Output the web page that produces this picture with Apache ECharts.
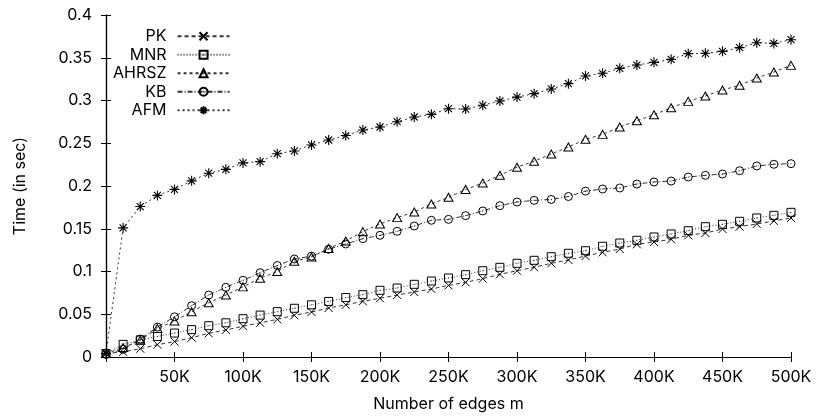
<!DOCTYPE html>
<html>
<head>
<meta charset="utf-8">
<script src="https://cdn.jsdelivr.net/npm/echarts@6/dist/echarts.min.js"></script>
<style>html,body{margin:0;padding:0;background:#fff}#c{width:818px;height:419px}</style>
</head>
<body>
<div id="c"></div>
<script>
const xEdges = [0,12500,25000,37500,50000,62500,75000,87500,100000,112500,125000,137500,150000,162500,175000,187500,200000,212500,225000,237500,250000,262500,275000,287500,300000,312500,325000,337500,350000,362500,375000,387500,400000,412500,425000,437500,450000,462500,475000,487500,500000];
const seriesNames = ['PK','MNR','AHRSZ','KB','AFM'];
const pk = [0.004,0.006,0.0097,0.0144,0.018,0.0226,0.0277,0.0316,0.036,0.040,0.044,0.0488,0.0526,0.0573,0.0610,0.0651,0.0687,0.0725,0.076,0.0795,0.0838,0.0873,0.0916,0.0967,0.1009,0.1049,0.1096,0.1135,0.1181,0.1224,0.1263,0.1318,0.1345,0.1376,0.1423,0.145,0.1497,0.1524,0.1556,0.1591,0.1626];
const mnr = [0.004,0.0148,0.020,0.024,0.028,0.032,0.0366,0.040,0.0448,0.049,0.053,0.057,0.061,0.065,0.0695,0.0729,0.078,0.0807,0.085,0.0889,0.0924,0.0963,0.1009,0.1049,0.1096,0.1131,0.1173,0.1213,0.1243,0.1295,0.1333,0.1365,0.1404,0.1439,0.1477,0.1524,0.1552,0.1587,0.1626,0.1657,0.1692];
const ahrsz = [0.004,0.011,0.0195,0.0335,0.042,0.053,0.0635,0.0725,0.082,0.092,0.100,0.112,0.117,0.127,0.1357,0.1466,0.1556,0.163,0.1696,0.179,0.1868,0.1960,0.2035,0.2125,0.222,0.229,0.2374,0.2456,0.2546,0.2604,0.269,0.2764,0.2834,0.2916,0.299,0.3053,0.3123,0.3178,0.3263,0.3333,0.3411];
const kb = [0.003,0.009,0.021,0.035,0.047,0.060,0.0725,0.0815,0.0897,0.0986,0.107,0.1146,0.118,0.126,0.1322,0.1384,0.1423,0.147,0.1532,0.1599,0.161,0.1653,0.1708,0.177,0.1813,0.1832,0.1843,0.1877,0.194,0.1965,0.1977,0.2023,0.2047,0.2058,0.2105,0.2125,0.214,0.2179,0.2234,0.2254,0.2261];
const afm = [0.004,0.151,0.176,0.189,0.196,0.206,0.215,0.2195,0.227,0.2285,0.2378,0.241,0.248,0.2538,0.259,0.2655,0.269,0.2752,0.2807,0.2838,0.2904,0.290,0.2944,0.2994,0.304,0.308,0.3135,0.3197,0.3287,0.3318,0.3376,0.3415,0.3446,0.3481,0.3548,0.3552,0.3575,0.3618,0.3676,0.3668,0.3711];
const xTickLabels = ['','50K','100K','150K','200K','250K','300K','350K','400K','450K','500K'];
const yTickLabels = ['0','0.05','0.1','0.15','0.2','0.25','0.3','0.35','0.4'];

const FONT = "Inter, 'Liberation Sans', Arial, sans-serif";
const FS = 16;
const symbols = {
  PK: 'path://M0,0L10,10M10,0L0,10',
  MNR: 'path://M0,0L10,0L10,10L0,10ZM4.6,5L5.4,5',
  AHRSZ: 'path://M5,0L10,9L0,9Z',
  KB: 'path://M10,5A5,5,0,1,1,0,5A5,5,0,1,1,10,5ZM4.6,5L5.4,5',
  AFM: 'path://M5,0L5,10M0,5L10,5M1.5,1.5L8.5,8.5M8.5,1.5L1.5,8.5'
};
const dashes = {
  PK: [4,3],
  MNR: [1,2],
  AHRSZ: [3,3],
  KB: [5,2,1,2],
  AFM: [2,3]
};
const values = {PK: pk, MNR: mnr, AHRSZ: ahrsz, KB: kb, AFM: afm};

const chart = echarts.init(document.getElementById('c'), null, {renderer: 'canvas'});
const axisCommon = {
  type: 'value',
  axisLine: {show: true, lineStyle: {color: '#000', width: 1.2}},
  axisTick: {show: true, inside: true, length: 5, lineStyle: {color: '#000', width: 1}},
  splitLine: {show: false}
};
chart.setOption({
  animation: false,
  textStyle: {fontFamily: FONT},
  grid: {left: 106, right: 27, top: 15, bottom: 62},
  legend: {
    orient: 'vertical',
    left: 108, top: 22,
    align: 'right',
    itemWidth: 52, itemHeight: 10, itemGap: 0,
    textStyle: {fontFamily: FONT, fontSize: FS, color: '#000', lineHeight: 18.5, padding: [0, 6, 0, 0]},
    data: seriesNames
  },
  xAxis: [
    Object.assign({}, axisCommon, {
      position: 'bottom', min: 0, max: 500000, interval: 50000,
      axisLabel: {color: '#000', fontSize: FS, fontFamily: FONT, margin: 12,
        formatter: v => xTickLabels[Math.round(v / 50000)]},
      name: 'Number of edges m', nameLocation: 'middle', nameGap: 39,
      nameTextStyle: {color: '#000', fontSize: FS, fontFamily: FONT}
    }),
    Object.assign({}, axisCommon, {
      position: 'top', min: 0, max: 500000, interval: 50000,
      axisLabel: {show: false}
    })
  ],
  yAxis: [
    Object.assign({}, axisCommon, {
      position: 'left', min: 0, max: 0.4, interval: 0.05,
      axisLabel: {color: '#000', fontSize: FS, fontFamily: FONT, margin: 14,
        formatter: v => yTickLabels[Math.round(v / 0.05)]},
      name: 'Time (in sec)', nameLocation: 'middle', nameGap: 78, nameRotate: 90,
      nameTextStyle: {color: '#000', fontSize: FS, fontFamily: FONT}
    }),
    Object.assign({}, axisCommon, {
      position: 'right', min: 0, max: 0.4, interval: 0.05,
      axisLabel: {show: false}
    })
  ],
  series: seriesNames.map(n => ({
    name: n,
    type: 'line',
    xAxisIndex: 0, yAxisIndex: 0,
    data: xEdges.map((x, i) => [x, values[n][i]]),
    symbol: symbols[n],
    symbolSize: n === 'AHRSZ' ? [9, 8] : (n === 'AFM' ? 10 : 8),
    showAllSymbol: true,
    color: '#000',
    lineStyle: {color: '#333', width: 1, type: dashes[n]},
    itemStyle: {color: 'none', borderColor: '#000', borderWidth: n === 'AFM' ? 1.1 : 1},
    emphasis: {disabled: true}
  }))
});
</script>
</body>
</html>
